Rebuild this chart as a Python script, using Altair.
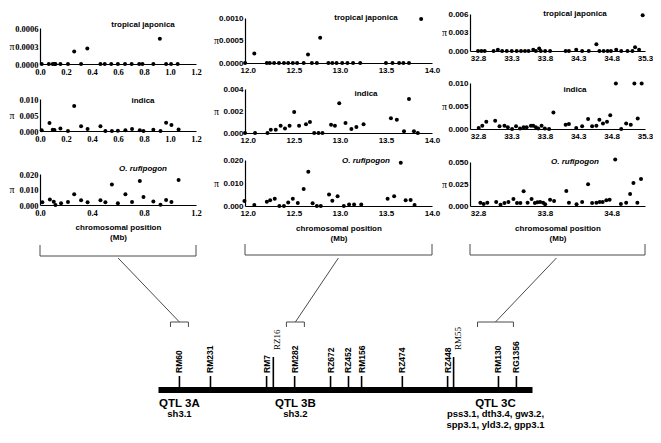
import altair as alt
import pandas as pd

# ---------------- nucleotide diversity (pi) per locus ----------------
# QTL 3A window (Mb)
a_tj_pos = [0.013, 0.068, 0.098, 0.111, 0.119, 0.157, 0.215, 0.263, 0.316, 0.364, 0.465, 0.498,
            0.548, 0.599, 0.654, 0.705, 0.763, 0.788, 0.872, 0.922, 0.970, 1.008, 1.059]
a_tj_pi = [0, 0, 0, 0, 0, 0, 0, 0.00021, 0, 0.00026, 0, 0, 0, 0, 0, 0, 0, 0, 0, 0.00042, 0, 0, 0]
a_ind_pos = [0.013, 0.073, 0.098, 0.111, 0.157, 0.215, 0.263, 0.316, 0.366, 0.465, 0.503, 0.553,
             0.599, 0.657, 0.708, 0.768, 0.796, 0.872, 0.927, 0.970, 1.011, 1.066]
a_ind_pi = [0.0002, 0.0025, 0.0004, 0.0003, 0.0008, 0, 0.0078, 0.0015, 0.0006, 0.0015, 0, 0,
            0.0001, 0.0002, 0.0006, 0.0002, 0, 0.0004, 0, 0.0026, 0.0019, 0.0005]
a_ruf_pos = [0.018, 0.076, 0.106, 0.119, 0.162, 0.215, 0.263, 0.316, 0.366, 0.465, 0.503, 0.553,
             0.599, 0.657, 0.708, 0.768, 0.796, 0.872, 0.927, 0.970, 1.011, 1.066]
a_ruf_pi = [0.0017, 0.0036, 0.0021, 0.0, 0.0011, 0.0019, 0.0070, 0.0030, 0.0017, 0.0030, 0.0017, 0.0132,
            0.0011, 0.0070, 0.0019, 0.0155, 0.0051, 0.0023, 0.0002, 0.0032, 0.0019, 0.0162]

# QTL 3B window (Mb)
b_tj_pos = [11.971, 12.071, 12.207, 12.239, 12.286, 12.339, 12.393, 12.439, 12.489, 12.536, 12.607, 12.654,
            12.696, 12.750, 12.786, 12.875, 12.918, 12.964, 13.025, 13.082, 13.143, 13.221, 13.500, 13.571,
            13.643, 13.689, 13.750, 13.882]
b_tj_pi = [0, 0.00021, 0, 0, 0, 0, 0, 0, 0, 0, 0, 0.00019, 0, 0, 0.00056, 0, 0, 0, 0, 0, 0, 0,
           0, 0, 0, 0, 0, 0.00098]
b_ind_pos = [11.970, 12.079, 12.214, 12.250, 12.304, 12.357, 12.404, 12.454, 12.504, 12.557, 12.632, 12.675,
             12.721, 12.768, 12.811, 12.904, 12.946, 12.993, 13.061, 13.125, 13.179, 13.257, 13.554, 13.618,
             13.696, 13.750, 13.804, 13.846]
b_ind_pi = [0, 0, 0, 0.0003, 0.0003, 0.00066, 0.0004, 0.00066, 0.0019, 0.00066, 0.0008, 0.0010,
            0, 0, 0, 0.00075, 0.00066, 0.0027, 0.0009, 0.00036, 0.00054, 0.0008, 0.00135, 0.0012,
            0.00015, 0.0031, 0.00015, 0]
b_ruf_pos = [11.964, 12.071, 12.207, 12.243, 12.293, 12.343, 12.393, 12.439, 12.489, 12.543, 12.607, 12.657,
             12.704, 12.750, 12.793, 12.882, 12.918, 12.975, 13.043, 13.100, 13.154, 13.232, 13.518, 13.589,
             13.661, 13.714, 13.768, 13.811]
b_ruf_pi = [0.0022, 0.0004, 0.0018, 0.0025, 0.0031, 0, 0, 0.0015, 0.0031, 0.0013, 0.0074, 0.0149,
            0.0012, 0, 0, 0.0050, 0.0023, 0.0042, 0, 0.0006, 0.0006, 0.0006, 0.0031, 0.0042,
            0.0188, 0.0025, 0.0026, 0.0004]

# QTL 3C window (Mb)
c_tj_pos = [32.800, 32.850, 32.900, 33.033, 33.097, 33.161, 33.231, 33.305, 33.379, 33.444, 33.503, 33.557,
            33.627, 33.666, 33.716, 33.740, 33.805, 33.879, 34.112, 34.161, 34.270, 34.359, 34.458, 34.572,
            34.617, 34.681, 34.740, 34.790, 34.869, 34.944, 35.038, 35.112, 35.151, 35.211, 35.265]
c_tj_pi = [0, 0, 0, 0, 0.0002, 0, 0, 0, 0, 0, 0, 0,
           0.0002, 0, 0.0004, 0, 0, 0, 0, 0, 0.0002, 0, 0, 0.0011,
           0, 0, 0, 0, 0.0002, 0, 0, 0, 0.0006, 0.0002, 0.0058]
c_ind_pos = [32.810, 32.864, 32.924, 33.057, 33.122, 33.196, 33.246, 33.310, 33.369, 33.429, 33.483, 33.528,
             33.592, 33.627, 33.666, 33.701, 33.751, 33.800, 33.864, 33.929, 34.112, 34.161, 34.270, 34.359,
             34.448, 34.508, 34.572, 34.617, 34.671, 34.731, 34.780, 34.864, 34.944, 35.018, 35.087, 35.141,
             35.191, 35.250]
c_ind_pi = [0.0002, 0.0007, 0.0016, 0.0018, 0.0006, 0.0007, 0.0004, 0, 0.0006, 0.0001, 0.0004, 0.0004,
            0.0007, 0.0007, 0.0004, 0.0001, 0.0007, 0.0001, 0, 0.0036, 0.0009, 0.0011, 0.0002, 0.0006,
            0.0022, 0.0006, 0.0007, 0.0020, 0.0012, 0.0016, 0.0030, 0.0099, 0, 0.0012, 0.0009, 0.0099,
            0.0023, 0.0099]
c_ruf_pos = [32.835, 32.884, 32.939, 33.072, 33.137, 33.196, 33.255, 33.330, 33.384, 33.434, 33.483, 33.542,
             33.602, 33.651, 33.690, 33.730, 33.775, 33.805, 33.879, 33.939, 34.122, 34.161, 34.275, 34.359,
             34.448, 34.508, 34.572, 34.622, 34.666, 34.721, 34.770, 34.854, 34.939, 35.018, 35.077, 35.127,
             35.186, 35.240]
c_ruf_pi = [0.0038, 0.0023, 0.0038, 0.0045, 0.0015, 0.0034, 0.0045, 0.0080, 0.0034, 0.0034, 0.0167, 0.0038,
            0.0080, 0.0034, 0.0042, 0.0045, 0.0038, 0.0019, 0.0072, 0.0057, 0.0170, 0.0038, 0.0019, 0.0045,
            0.0246, 0.0034, 0.0038, 0.0045, 0.0045, 0.0064, 0.0072, 0.0527, 0.0023, 0.0038, 0.0136, 0.0261,
            0.0038, 0.0307]

# ---------------- chromosome 3 map (relative map position, bar = 0..100) ----------------
marker_names = ["RM60", "RM231", "RM7", "RM282", "RZ672", "RZ452", "RM156", "RZ474", "RZ448", "RM130", "RG1356"]
marker_pos = [5.6, 13.9, 28.9, 36.4, 46.0, 50.8, 54.3, 65.2, 77.3, 90.9, 95.7]
extra_names = ["RZ16", "RM55"]
extra_pos = [30.7, 78.9]
qtl_names = ["QTL 3A", "QTL 3B", "QTL 3C"]
qtl_lo = [3.2, 34.2, 85.3]
qtl_hi = [8.0, 39.0, 94.9]
qtl_genes = ["sh3.1", "sh3.2", "pss3.1, dth3.4, gw3.2,\nspp3.1, yld3.2, gpp3.1"]
link_from = [-10.8, 48.1, 106.4]   # centre of each diversity window, in map units

# ---------------- styling / layout ----------------
SANS = "Liberation Sans"
SERIF = "Liberation Serif"
INK = "black"
LINK = "#4a4a4a"
ORIGIN = 8            # page margin
BRACKET_Y = 256       # window brackets under the panels
BRACKET_TOP = 245
SPLIT_Y = 257         # where the map section starts
GAP_TOP = 8           # reserved room above panels 2 and 3
GAP_FIX = 1.5         # correction for the extra room the layout adds below the first panel


def anchor(x0, x1, y0, y1):
    """invisible guide used only to fix the layout bounds"""
    return alt.Chart(pd.DataFrame({"v": [0]})).mark_rule(opacity=0, strokeOpacity=0).encode(
        x=alt.value(x0), x2=alt.value(x1), y=alt.value(y0), y2=alt.value(y1))


def panel(pos, pi, xdom, xvals, yvals, yfmt, w, h, label, italic, tfont, tsize,
          lab_x, lab_y, title_x, extra_layers, bottom):
    df = pd.DataFrame({"pos": pos, "pi": pi})
    common = dict(ticks=False, grid=False, domainColor=INK, domainWidth=1.2,
                  labelFont=tfont, labelFontSize=tsize, labelFontWeight="bold",
                  labelColor=INK, labelFlush=False, labelOverlap=False)
    if bottom:
        xa = alt.Axis(values=xvals, format=".1f", labelPadding=3, titleFont=SANS,
                      titleFontSize=8, titleFontWeight="bold", titleColor=INK,
                      titlePadding=7, titleLineHeight=10, **common)
        xenc = alt.X("pos:Q", scale=alt.Scale(domain=xdom, nice=False, zero=False),
                     axis=xa, title=["chromosomal position", "(Mb)"])
    else:
        xa = alt.Axis(values=xvals, format=".1f", labelPadding=3, **common)
        xenc = alt.X("pos:Q", scale=alt.Scale(domain=xdom, nice=False, zero=False),
                     axis=xa, title=None)
    ya = alt.Axis(values=yvals, format=yfmt, labelPadding=2, titleAngle=0, titleFont=SERIF,
                  titleFontSize=10, titleFontWeight="normal", titleColor=INK,
                  titleX=title_x, titleY=h / 2, titleAlign="center", titleBaseline="middle", **common)
    yenc = alt.Y("pi:Q", scale=alt.Scale(domain=[0, yvals[-1]], nice=False), axis=ya, title="π")
    pts = alt.Chart(df).mark_circle(size=16, color=INK, opacity=1).encode(x=xenc, y=yenc)
    lab = alt.Chart(pd.DataFrame({"t": [label]})).mark_text(
        font=SANS, fontSize=8, fontWeight="bold", fontStyle="italic" if italic else "normal",
        color=INK, align="center", baseline="middle"
    ).encode(x=alt.value(lab_x), y=alt.value(lab_y), text="t:N")
    return alt.layer(pts, lab, *extra_layers).properties(width=w, height=h)


def column(specs, xdom, xvals, w, tops, heights, ktop1, left_l, right_r, tfont, tsize, title_x, lab_x):
    spacer_h = tops[0] - ORIGIN - ktop1
    charts = [alt.layer(anchor(0, 1, 0, spacer_h)).properties(width=1, height=spacer_h)]
    for i, (pos, pi, yvals, yfmt, label, italic, lab_y) in enumerate(specs):
        h = heights[i]
        ktop = ktop1 if i == 0 else GAP_TOP
        if i < 2:
            kbot = tops[i + 1] - (tops[i] + h) - GAP_TOP - (GAP_FIX if i == 0 else 0)
        else:
            kbot = SPLIT_Y - (tops[i] + h)
        extra = [anchor(-left_l, w + right_r, -ktop, h + kbot)]
        if i == 2:
            br = pd.DataFrame({"lo": [xdom[0]], "hi": [xdom[1]]})
            extra.append(alt.Chart(br).mark_rule(color=LINK, strokeWidth=1).encode(
                x="lo:Q", x2="hi:Q", y=alt.value(BRACKET_Y - tops[i])))
            ends = pd.DataFrame({"lo": xdom})
            extra.append(alt.Chart(ends).mark_rule(color=LINK, strokeWidth=1).encode(
                x="lo:Q", y=alt.value(BRACKET_TOP - tops[i]), y2=alt.value(BRACKET_Y - tops[i])))
        charts.append(panel(pos, pi, xdom, xvals, yvals, yfmt, w, h, label, italic,
                            tfont, tsize, lab_x, lab_y, title_x, extra, i == 2))
    return alt.vconcat(*charts, spacing=0, bounds="full").resolve_scale(x="independent", y="independent")


colA = column([
    (a_tj_pos, a_tj_pi, [0, 0.0003, 0.0006], ".4f", "tropical japonica", False, -3),
    (a_ind_pos, a_ind_pi, [0, 0.005, 0.010], ".3f", "indica", False, 2),
    (a_ruf_pos, a_ruf_pi, [0, 0.010, 0.020], ".3f", "O. rufipogon", True, -5)],
    [0.0, 1.2], [0.0, 0.2, 0.4, 0.6, 0.8, 1.0, 1.2], 156, [28, 100, 174], [36, 32, 31], 8,
    31.5, 17, SERIF, 8.5, -28.5, 103)

colB = column([
    (b_tj_pos, b_tj_pi, [0, 0.0005, 0.0010], ".4f", "tropical japonica", False, 0),
    (b_ind_pos, b_ind_pi, [0, 0.002, 0.004], ".3f", "indica", False, 5),
    (b_ruf_pos, b_ruf_pi, [0, 0.010, 0.020], ".3f", "O. rufipogon", True, 1)],
    [11.97, 14.0], [12.0, 12.5, 13.0, 13.5, 14.0], 187, [18, 90, 161], [45, 44, 46], 6,
    32, 8.5, SANS, 8, -29, 121)

colC = column([
    (c_tj_pos, c_tj_pi, [0, 0.003, 0.006], ".3f", "tropical japonica", False, 0),
    (c_ind_pos, c_ind_pi, [0, 0.005, 0.010], ".3f", "indica", False, 7),
    (c_ruf_pos, c_ruf_pi, [0, 0.025, 0.050], ".3f", "O. rufipogon", True, 0)],
    [32.68, 35.3], [32.8, 33.3, 33.8, 34.3, 34.8, 35.3], 175, [14, 84, 163], [37, 46, 44], 5,
    28.5, 8, SANS, 8, -26, 105)

top = alt.hconcat(colA, colB, colC, spacing=0, bounds="full").resolve_scale(
    x="independent", y="independent")

# ---------------- chromosome map ----------------
MAP_LEFT = 39.5       # the map shares its left edge with the first panel column
MAP_W = 608
MAP_H = 150
PX_PER_UNIT = 3.74
BAR_START = 158
d0 = (MAP_LEFT - BAR_START) / PX_PER_UNIT
mscale = alt.Scale(domain=[d0, d0 + MAP_W / PX_PER_UNIT], nice=False, zero=False)


def Y(v):
    return alt.value(v - SPLIT_Y)


mx = alt.X("u:Q", scale=mscale, axis=None)
mk = pd.DataFrame({"u": marker_pos, "name": marker_names})
ex = pd.DataFrame({"u": extra_pos, "name": extra_names})
centres = [(a + b) / 2 for a, b in zip(qtl_lo, qtl_hi)]
qt = pd.DataFrame({"u": qtl_lo, "u2": qtl_hi, "name": qtl_names, "genes": qtl_genes, "c": centres})
qt_ends = pd.DataFrame({"u": qtl_lo + qtl_hi})
links = pd.DataFrame({"u": link_from, "u2": centres})
bar = pd.DataFrame({"u": [0], "u2": [100]})

map_layers = [
    anchor(0, 1, 0, MAP_H),
    alt.Chart(bar).mark_rule(color=INK, strokeWidth=6).encode(x=mx, x2="u2:Q", y=Y(389)),
    alt.Chart(mk).mark_rule(color=INK, strokeWidth=1.6).encode(x=mx, y=Y(375), y2=Y(387)),
    alt.Chart(ex).mark_rule(color=INK, strokeWidth=1.6).encode(x=mx, y=Y(356), y2=Y(387)),
    alt.Chart(mk).mark_text(angle=270, align="left", baseline="middle", font=SANS, fontSize=8.5,
                            fontWeight="bold", color=INK).encode(x=mx, y=Y(372), text="name:N"),
    alt.Chart(ex).mark_text(angle=270, align="left", baseline="top", font=SERIF, fontSize=9,
                            color=INK).encode(x=mx, y=Y(349), text="name:N"),
    alt.Chart(qt).mark_rule(color=LINK, strokeWidth=1).encode(x=mx, x2="u2:Q", y=Y(321)),
    alt.Chart(qt_ends).mark_rule(color=LINK, strokeWidth=1).encode(x=mx, y=Y(321), y2=Y(326)),
    alt.Chart(links).mark_rule(color=LINK, strokeWidth=1).encode(x=mx, x2="u2:Q", y=Y(257), y2=Y(321)),
    alt.Chart(qt).mark_text(font=SANS, fontSize=11.5, fontWeight="bold", color=INK,
                            align="center", baseline="middle").encode(
        x=alt.X("c:Q", scale=mscale, axis=None), y=Y(403), text="name:N"),
    alt.Chart(qt).mark_text(font=SANS, fontSize=9.5, fontWeight="bold", color=INK, align="center",
                            baseline="top", lineBreak="\n", lineHeight=11).encode(
        x=alt.X("c:Q", scale=mscale, axis=None), y=Y(408), text="genes:N"),
]
chrom = alt.layer(*map_layers).properties(width=MAP_W, height=MAP_H)

chart = alt.vconcat(top, chrom, spacing=0, bounds="full").resolve_scale(
    x="independent", y="independent"
).properties(padding=0, background="white").configure_view(stroke=None)

chart.save("out.html", embed_options={"renderer": "svg", "actions": False})
